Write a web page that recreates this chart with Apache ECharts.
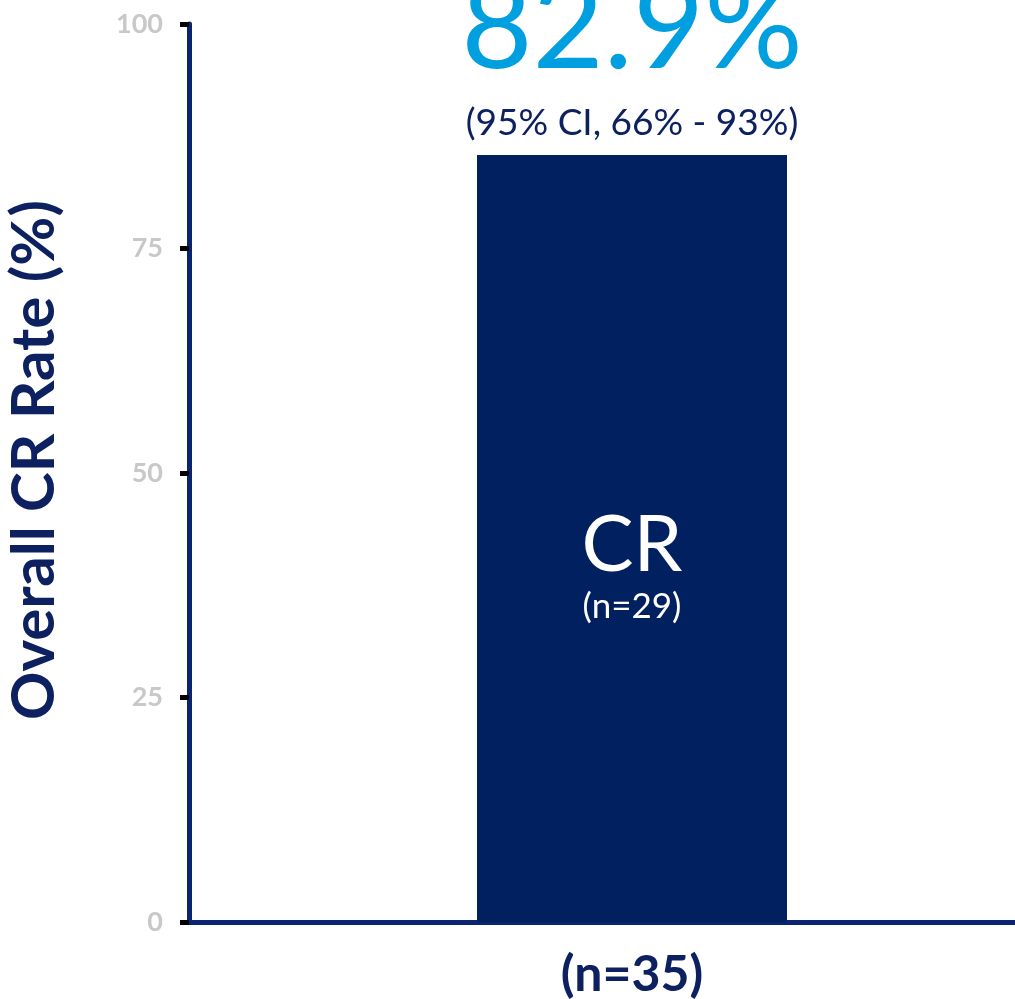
<!DOCTYPE html>
<html>
<head>
<meta charset="utf-8">
<script src="https://cdn.jsdelivr.net/npm/echarts@6/dist/echarts.min.js"></script>
<style>html,body{margin:0;padding:0;background:#fff}#c{width:1015px;height:999px}</style>
</head>
<body>
<div id="c"></div>
<script>
const categories = ['(n=35)'];
const crRate = [85.4];
const headline = '82.9%';
const ciText = '(95% CI, 66% - 93%)';
const barTitle = 'CR';
const barCount = '(n=29)';
const yAxisTitle = 'Overall CR Rate (%)';

const navy = '#00205f';
const axisNavy = '#0a2570';
const textNavy = '#0d2160';
const FONT = 'Lato';

const chart = echarts.init(document.getElementById('c'));
chart.setOption({
  animation: false,
  backgroundColor: '#ffffff',
  grid: { left: 189, right: -60, top: 24, bottom: 77, containLabel: false, outerBoundsMode: 'none' },
  xAxis: {
    type: 'category',
    data: categories,
    axisLine: { show: true, lineStyle: { color: axisNavy, width: 5 } },
    axisTick: { show: false },
    axisLabel: { color: textNavy, fontSize: 50, fontWeight: 'bold', fontFamily: FONT, margin: 28 }
  },
  yAxis: {
    type: 'value',
    min: 0, max: 100, interval: 25,
    name: yAxisTitle,
    nameLocation: 'middle',
    nameRotate: 90,
    nameGap: 124,
    nameTextStyle: { color: textNavy, fontSize: 60, fontWeight: 'bold', fontFamily: FONT, padding: [0, 0, 0, 26] },
    axisLine: { show: true, onZero: false, lineStyle: { color: axisNavy, width: 5 } },
    axisTick: { show: true, length: 9, lineStyle: { color: '#000000', width: 5 } },
    axisLabel: { color: '#c8c8c8', fontSize: 27, fontWeight: 'bold', fontFamily: FONT, margin: 26 },
    splitLine: { show: false }
  },
  series: [
    {
      type: 'bar',
      data: crRate,
      barWidth: 310,
      itemStyle: { color: navy },
      label: {
        show: true,
        position: 'inside',
        offset: [0, 27],
        formatter: '{a|' + barTitle + '}\n{b|' + barCount + '}',
        rich: {
          a: { color: '#ffffff', fontSize: 78, fontFamily: FONT, lineHeight: 82, align: 'center' },
          b: { color: '#ffffff', fontSize: 35, fontFamily: FONT, lineHeight: 40, align: 'center' }
        }
      },
      z: 2
    },
    {
      type: 'bar',
      data: crRate,
      barWidth: 310,
      barGap: '-100%',
      itemStyle: { color: 'rgba(0,0,0,0)' },
      label: {
        show: true,
        position: 'top',
        distance: 12,
        formatter: '{a|' + headline + '}\n{b|' + ciText + '}',
        rich: {
          a: { color: '#009fe0', fontSize: 123, fontFamily: FONT, lineHeight: 150, align: 'center' },
          b: { color: textNavy, fontSize: 37, fontFamily: FONT, lineHeight: 40, align: 'center' }
        }
      },
      z: 3
    }
  ]
});
</script>
</body>
</html>
